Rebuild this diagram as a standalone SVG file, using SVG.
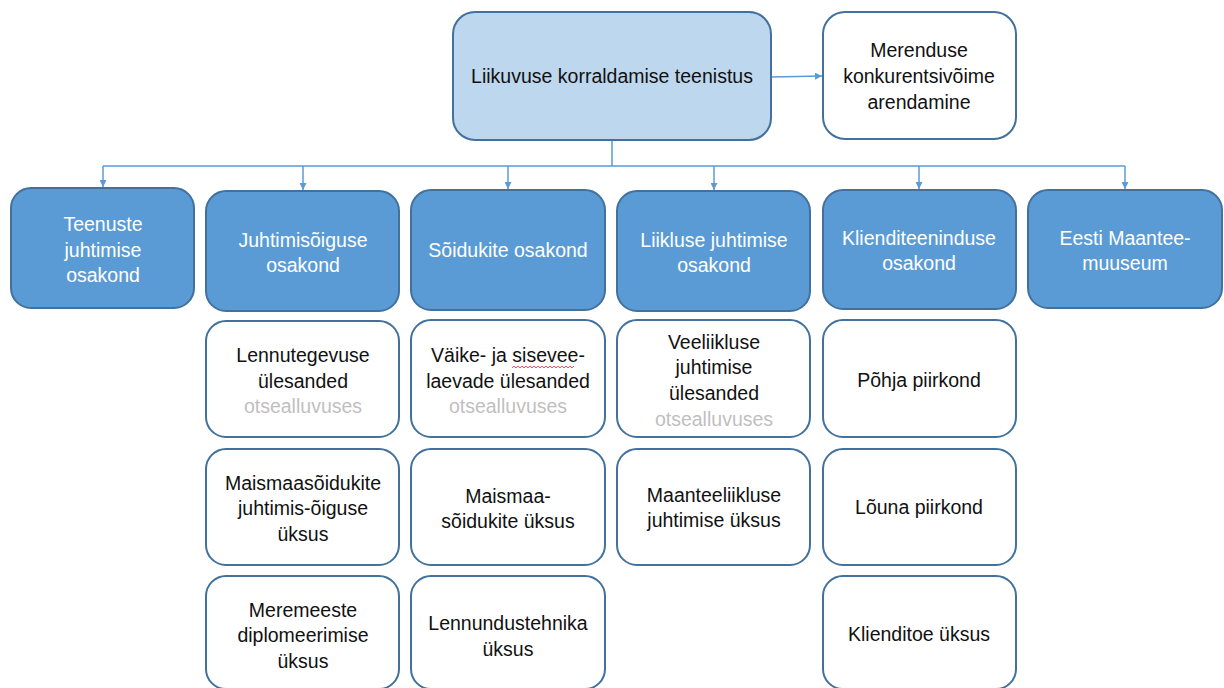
<svg xmlns="http://www.w3.org/2000/svg" width="1224" height="688" viewBox="0 0 1224 688">
<defs>
<style>
.top{fill:#BDD7EE;stroke:#41719C;stroke-width:2}
.dep{fill:#5B9BD5;stroke:#41719C;stroke-width:2}
.box{fill:#FFFFFF;stroke:#41719C;stroke-width:2}
text{font-family:"Liberation Sans",Arial,sans-serif;font-size:19.5px;text-anchor:middle}
.dk{fill:#111111}
.wt{fill:#FFFFFF}
.gr{fill:#BFBFBF}
.con{stroke:#5B9BD5;stroke-width:1.5;fill:none}
</style>
<marker id="ah" viewBox="0 0 10 10" refX="10" refY="5" markerWidth="7" markerHeight="7" markerUnits="userSpaceOnUse" orient="auto">
<path d="M0,0 L10,5 L0,10 z" fill="#5B9BD5"/>
</marker>
</defs>
<rect width="1224" height="688" fill="#FFFFFF"/>
<g id="connectors">
<path class="con" d="M771,77 L822,76" marker-end="url(#ah)"/>
<path class="con" d="M612,141 L612,166 M103,166 L1125,166"/>
<path class="con" d="M103,166 L103,187" marker-end="url(#ah)"/>
<path class="con" d="M303,166 L303,190" marker-end="url(#ah)"/>
<path class="con" d="M508,166 L508,189" marker-end="url(#ah)"/>
<path class="con" d="M714,166 L714,190" marker-end="url(#ah)"/>
<path class="con" d="M919,166 L919,189" marker-end="url(#ah)"/>
<path class="con" d="M1125,166 L1125,189" marker-end="url(#ah)"/>
</g>
<g id="n-top"><rect class="top" x="453" y="12" width="318" height="128" rx="22"/><text class="dk" x="612" y="83">Liikuvuse korraldamise teenistus</text></g>
<g id="n-merendus"><rect class="box" x="823" y="12" width="193" height="127" rx="22"/><text class="dk" x="919" y="57">Merenduse</text><text class="dk" x="919" y="83">konkurentsivõime</text><text class="dk" x="919" y="109">arendamine</text></g>
<g id="d1"><rect class="dep" x="11" y="188" width="183" height="120" rx="20"/><text class="wt" x="103" y="231">Teenuste</text><text class="wt" x="103" y="257">juhtimise</text><text class="wt" x="103" y="282">osakond</text></g>
<g id="d2"><rect class="dep" x="206" y="191" width="193" height="120" rx="20"/><text class="wt" x="303" y="247">Juhtimisõiguse</text><text class="wt" x="303" y="272">osakond</text></g>
<g id="d3"><rect class="dep" x="411" y="190" width="194" height="120" rx="20"/><text class="wt" x="508" y="257">Sõidukite osakond</text></g>
<g id="d4"><rect class="dep" x="617" y="191" width="193" height="120" rx="20"/><text class="wt" x="714" y="247">Liikluse juhtimise</text><text class="wt" x="714" y="272">osakond</text></g>
<g id="d5"><rect class="dep" x="823" y="190" width="193" height="119" rx="20"/><text class="wt" x="919" y="245">Klienditeeninduse</text><text class="wt" x="919" y="270">osakond</text></g>
<g id="d6"><rect class="dep" x="1028" y="190" width="194" height="118" rx="20"/><text class="wt" x="1125" y="245">Eesti Maantee-</text><text class="wt" x="1125" y="270">muuseum</text></g>
<g id="c2a"><rect class="box" x="206" y="321" width="193" height="116" rx="20"/><text class="dk" x="303" y="362">Lennutegevuse</text><text class="dk" x="303" y="388">ülesanded</text><text class="gr" x="303" y="413">otsealluvuses</text></g>
<g id="c2b"><rect class="box" x="206" y="449" width="193" height="116" rx="20"/><text class="dk" x="303" y="490">Maismaasõidukite</text><text class="dk" x="303" y="515">juhtimis-õiguse</text><text class="dk" x="303" y="541">üksus</text></g>
<g id="c2c"><rect class="box" x="206" y="576" width="193" height="113" rx="20"/><text class="dk" x="303" y="617">Meremeeste</text><text class="dk" x="303" y="642">diplomeerimise</text><text class="dk" x="303" y="668">üksus</text></g>
<g id="c3a"><rect class="box" x="411" y="320" width="194" height="117" rx="20"/><text class="dk" x="508" y="362">Väike- ja sisevee-</text><text class="dk" x="508" y="388">laevade ülesanded</text><text class="gr" x="508" y="413">otsealluvuses</text><path d="M512,368 l2,-2 l2,2 l2,-2 l2,2 l2,-2 l2,2 l2,-2 l2,2 l2,-2 l2,2 l2,-2 l2,2 l2,-2 l2,2 l2,-2 l2,2 l2,-2 l2,2 l2,-2 l2,2 l2,-2 l2,2 l2,-2 l2,2 l2,-2 l2,2 l2,-2 l2,2 l2,-2 l2,2 l2,-2" fill="none" stroke="#E03030" stroke-width="0.8"/></g>
<g id="c3b"><rect class="box" x="411" y="449" width="194" height="116" rx="20"/><text class="dk" x="508" y="503">Maismaa-</text><text class="dk" x="508" y="528">sõidukite üksus</text></g>
<g id="c3c"><rect class="box" x="411" y="576" width="194" height="113" rx="20"/><text class="dk" x="508" y="630">Lennundustehnika</text><text class="dk" x="508" y="656">üksus</text></g>
<g id="c4a"><rect class="box" x="617" y="320" width="193" height="117" rx="20"/><text class="dk" x="714" y="349">Veeliikluse</text><text class="dk" x="714" y="374">juhtimise</text><text class="dk" x="714" y="400">ülesanded</text><text class="gr" x="714" y="426">otsealluvuses</text></g>
<g id="c4b"><rect class="box" x="617" y="449" width="193" height="116" rx="20"/><text class="dk" x="714" y="502">Maanteeliikluse</text><text class="dk" x="714" y="527">juhtimise üksus</text></g>
<g id="c5a"><rect class="box" x="823" y="320" width="193" height="117" rx="20"/><text class="dk" x="919" y="387">Põhja piirkond</text></g>
<g id="c5b"><rect class="box" x="823" y="449" width="193" height="116" rx="20"/><text class="dk" x="919" y="514">Lõuna piirkond</text></g>
<g id="c5c"><rect class="box" x="823" y="576" width="193" height="113" rx="20"/><text class="dk" x="919" y="641">Klienditoe üksus</text></g>
</svg>
